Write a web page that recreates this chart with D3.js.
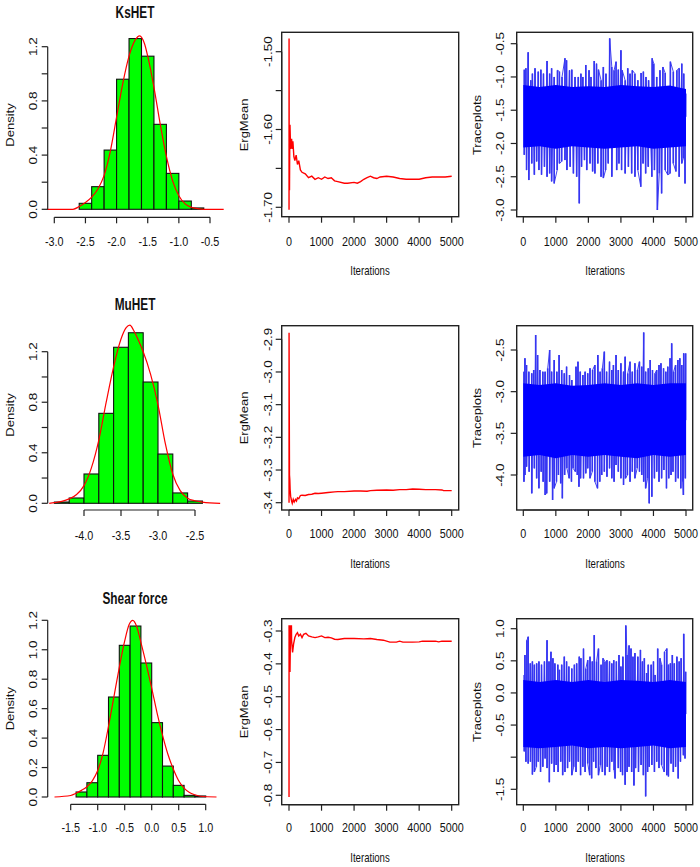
<!DOCTYPE html>
<html><head><meta charset="utf-8">
<script src="https://cdn.jsdelivr.net/npm/d3@7"></script>
<style>html,body{margin:0;padding:0;background:#fff;}svg{display:block;}</style>
</head><body>
<script>
// ---------------- DATA ----------------
const iterTicks = [0,1000,2000,3000,4000,5000];

// KsHET
const ksBreaks = [-2.6,-2.4,-2.2,-2.0,-1.8,-1.6,-1.4,-1.2,-1.0,-0.8,-0.6];
const ksHist = [0.044,0.167,0.437,0.96,1.26,1.13,0.627,0.265,0.061,0.01];
const ksDensX = [-3.12,-2.7,-2.6,-2.5,-2.4,-2.3,-2.2,-2.1,-2.0,-1.9,-1.8,-1.7,-1.63,-1.55,-1.5,-1.4,-1.3,-1.2,-1.1,-1.0,-0.9,-0.8,-0.7,-0.6,-0.28];
const ksDensY = [0,0,0.02,0.05,0.09,0.15,0.25,0.43,0.68,0.93,1.13,1.25,1.28,1.22,1.13,0.9,0.63,0.39,0.21,0.1,0.04,0.015,0.005,0,0];
const ksHistXTicks = [-3.0,-2.5,-2.0,-1.5,-1.0,-0.5];
const ksHistYTicks = [0,0.2,0.4,0.6,0.8,1.0,1.2];
const ksHistYLabels = ["0.0","","0.4","","0.8","","1.2"];
const ksErgIter = [1,2,5,10,15,25,30,40,50,60,80,100,120,150,180,220,260,300,350,400,500,600,700,800,900,1000,1100,1200,1300,1400,1500,1700,1800,2000,2100,2200,2300,2400,2500,2600,2700,2800,3000,3200,3400,3600,3800,4000,4200,4400,4600,4800,5000];
const ksErgVal = [-1.703,-1.483,-1.60,-1.65,-1.678,-1.60,-1.594,-1.61,-1.625,-1.62,-1.612,-1.625,-1.615,-1.635,-1.64,-1.633,-1.645,-1.64,-1.652,-1.655,-1.657,-1.662,-1.66,-1.664,-1.662,-1.664,-1.661,-1.663,-1.662,-1.666,-1.667,-1.669,-1.669,-1.668,-1.669,-1.667,-1.664,-1.662,-1.660,-1.662,-1.663,-1.661,-1.660,-1.661,-1.663,-1.664,-1.664,-1.664,-1.662,-1.661,-1.661,-1.661,-1.660];
const ksErgTicks = [-1.70,-1.65,-1.60,-1.55,-1.50];
const ksErgLabels = ["-1.70","","-1.60","","-1.50"];
const ksTraceTicks = [-3.0,-2.5,-2.0,-1.5,-1.0,-0.5];
const ksTraceLabels = ["-3.0","-2.5","-2.0","-1.5","-1.0","-0.5"];
const coreIters = [0,500,1000,1500,2000,2500,3000,3500,4000,4500,5000];
const ksCoreTop = [-1.12,-1.15,-1.12,-1.15,-1.14,-1.15,-1.12,-1.14,-1.15,-1.13,-1.18];
const ksCoreBot = [-2.06,-2.04,-2.08,-2.04,-2.06,-2.08,-2.06,-2.04,-2.08,-2.06,-2.04];
const ksUpper = [[30,-0.89],[80,-0.87],[150,-0.63],[230,-1.05],[280,-0.95],[360,-0.87],[460,-0.92],[540,-0.89],[620,-0.95],[730,-0.76],[810,-0.95],[870,-0.87],[950,-1.0],[1050,-0.9],[1110,-0.92],[1190,-1.0],[1280,-0.72],[1330,-0.75],[1420,-0.9],[1490,-0.89],[1590,-1.0],[1690,-1.0],[1770,-0.95],[1830,-1.0],[1920,-0.82],[2020,-0.9],[2080,-1.0],[2180,-0.76],[2250,-0.8],[2310,-0.89],[2390,-1.05],[2460,-0.85],[2540,-0.95],[2655,-0.42],[2720,-0.85],[2790,-0.9],[2850,-0.77],[2920,-0.89],[3000,-0.6],[3040,-0.9],[3130,-1.05],[3210,-0.87],[3280,-0.95],[3350,-0.9],[3430,-0.95],[3520,-1.05],[3620,-0.94],[3690,-0.92],[3770,-1.0],[3850,-1.05],[3960,-0.72],[4010,-0.8],[4100,-1.0],[4200,-0.9],[4290,-0.85],[4360,-0.94],[4520,-0.77],[4610,-0.92],[4720,-0.9],[4790,-0.87],[4870,-0.8],[4930,-0.95],[4990,-1.25]];
const ksLower = [[30,-2.17],[100,-2.40],[170,-2.55],[260,-2.30],[340,-2.47],[410,-2.27],[480,-2.40],[560,-2.47],[650,-2.35],[730,-2.50],[810,-2.45],[870,-2.57],[950,-2.60],[1040,-2.40],[1110,-2.30],[1180,-2.27],[1280,-2.25],[1340,-2.40],[1440,-2.35],[1540,-2.45],[1640,-2.50],[1720,-2.90],[1790,-2.35],[1880,-2.25],[1950,-2.40],[2050,-2.30],[2130,-2.42],[2200,-2.45],[2290,-2.30],[2390,-2.50],[2460,-2.52],[2530,-2.40],[2610,-2.30],[2720,-2.50],[2870,-2.40],[2940,-2.30],[3020,-2.40],[3130,-2.45],[3230,-2.35],[3330,-2.45],[3430,-2.50],[3520,-2.40],[3610,-2.65],[3680,-2.30],[3760,-2.45],[3840,-2.35],[3950,-2.50],[4030,-2.40],[4120,-3.00],[4180,-2.45],[4250,-2.75],[4360,-2.40],[4440,-2.47],[4510,-2.45],[4610,-2.30],[4690,-2.42],[4790,-2.50],[4870,-2.30],[4920,-2.22],[4970,-2.60]];

// MuHET
const muBreaks = [-4.4,-4.2,-4.0,-3.8,-3.6,-3.4,-3.2,-3.0,-2.8,-2.6,-2.4];
const muHist = [0.01,0.042,0.232,0.712,1.235,1.35,0.96,0.39,0.082,0.018];
const muDensX = [-4.47,-4.4,-4.3,-4.2,-4.1,-4.0,-3.9,-3.8,-3.7,-3.6,-3.5,-3.43,-3.38,-3.33,-3.25,-3.2,-3.1,-3.0,-2.9,-2.8,-2.7,-2.6,-2.5,-2.4,-2.16];
const muDensY = [0,0.005,0.015,0.035,0.07,0.14,0.28,0.5,0.8,1.08,1.3,1.39,1.41,1.37,1.27,1.2,1.02,0.78,0.47,0.23,0.1,0.04,0.02,0.01,0];
const muHistXTicks = [-4.0,-3.5,-3.0,-2.5];
const muHistYTicks = [0,0.2,0.4,0.6,0.8,1.0,1.2];
const muHistYLabels = ["0.0","","0.4","","0.8","","1.2"];
const muErgIter = [1,2,8,15,25,35,50,80,100,130,160,200,230,260,300,350,400,500,600,700,800,900,1000,1200,1400,1500,1700,2000,2200,2400,2500,2700,3000,3200,3400,3600,3800,4000,4200,4500,4700,4750,5000];
const muErgVal = [-3.40,-2.88,-3.10,-3.315,-3.33,-3.36,-3.38,-3.395,-3.402,-3.39,-3.398,-3.39,-3.395,-3.385,-3.388,-3.378,-3.377,-3.378,-3.375,-3.374,-3.371,-3.372,-3.371,-3.369,-3.367,-3.366,-3.366,-3.364,-3.364,-3.365,-3.363,-3.362,-3.361,-3.362,-3.360,-3.360,-3.358,-3.359,-3.360,-3.360,-3.361,-3.363,-3.363];
const muErgTicks = [-3.4,-3.3,-3.2,-3.1,-3.0,-2.9];
const muErgLabels = ["-3.4","-3.3","-3.2","-3.1","-3.0","-2.9"];
const muTraceTicks = [-4.0,-3.5,-3.0,-2.5];
const muTraceLabels = ["-4.0","-3.5","-3.0","-2.5"];
const muCoreTop = [-2.90,-2.92,-2.90,-2.93,-2.92,-2.90,-2.92,-2.90,-2.92,-2.90,-2.90];
const muCoreBot = [-3.78,-3.76,-3.80,-3.76,-3.78,-3.76,-3.78,-3.80,-3.76,-3.78,-3.76];
const muUpper = [[20,-2.76],[50,-2.60],[100,-2.68],[170,-2.76],[260,-2.78],[320,-2.74],[380,-2.32],[440,-2.56],[510,-2.74],[600,-2.76],[670,-2.76],[750,-2.72],[810,-2.50],[870,-2.76],[950,-2.62],[1030,-2.76],[1100,-2.56],[1180,-2.74],[1260,-2.78],[1330,-2.70],[1420,-2.80],[1490,-2.86],[1620,-2.70],[1680,-2.64],[1750,-2.76],[1830,-2.80],[1900,-2.76],[1980,-2.78],[2050,-2.72],[2130,-2.74],[2200,-2.68],[2290,-2.56],[2360,-2.76],[2430,-2.72],[2490,-2.52],[2560,-2.76],[2650,-2.64],[2720,-2.74],[2770,-2.68],[2850,-2.56],[2920,-2.74],[3000,-2.66],[3080,-2.76],[3130,-2.58],[3210,-2.78],[3280,-2.64],[3350,-2.76],[3430,-2.66],[3510,-2.74],[3570,-2.64],[3640,-2.70],[3700,-2.29],[3760,-2.76],[3840,-2.72],[3900,-2.62],[3970,-2.74],[4050,-2.78],[4100,-2.74],[4170,-2.68],[4230,-2.66],[4310,-2.72],[4380,-2.76],[4440,-2.70],[4510,-2.60],[4560,-2.42],[4620,-2.76],[4680,-2.68],[4750,-2.62],[4810,-2.60],[4870,-2.68],[4930,-2.54],[4990,-2.54]];
const muLower = [[20,-4.08],[50,-4.0],[100,-3.90],[180,-3.96],[260,-4.22],[340,-3.92],[410,-4.04],[480,-4.16],[550,-3.96],[610,-4.08],[670,-4.24],[720,-4.22],[810,-4.08],[900,-4.30],[950,-4.16],[1020,-4.08],[1080,-4.00],[1150,-4.10],[1200,-4.28],[1270,-4.00],[1340,-3.92],[1410,-4.04],[1480,-4.08],[1530,-3.92],[1600,-3.96],[1660,-4.00],[1710,-4.14],[1760,-4.04],[1850,-4.04],[1920,-3.98],[1980,-3.92],[2050,-4.04],[2120,-3.96],[2200,-4.08],[2280,-4.16],[2350,-4.08],[2410,-4.00],[2490,-3.96],[2570,-4.02],[2650,-3.92],[2720,-4.04],[2790,-4.08],[2850,-3.88],[2920,-3.96],[3000,-4.04],[3080,-4.12],[3140,-4.04],[3200,-4.00],[3280,-4.08],[3350,-3.96],[3430,-4.04],[3500,-3.92],[3570,-3.96],[3640,-4.00],[3700,-4.08],[3760,-4.16],[3820,-4.04],[3870,-4.34],[3950,-4.26],[4030,-4.04],[4100,-3.96],[4170,-4.08],[4250,-4.04],[4320,-3.94],[4400,-4.16],[4470,-4.04],[4540,-4.00],[4600,-3.96],[4680,-4.08],[4760,-4.04],[4840,-4.16],[4900,-4.08],[4920,-4.24],[4980,-4.04]];

// Shear force
const shBreaks = [-1.4,-1.2,-1.0,-0.8,-0.6,-0.4,-0.2,0.0,0.2,0.4,0.6,0.8,1.0];
const shHist = [0.034,0.097,0.283,0.679,1.03,1.161,0.91,0.505,0.21,0.079,0.011,0.007];
const shDensX = [-1.8,-1.5,-1.4,-1.3,-1.2,-1.1,-1.0,-0.9,-0.8,-0.7,-0.6,-0.5,-0.42,-0.35,-0.28,-0.2,-0.1,0.0,0.1,0.2,0.3,0.4,0.5,0.6,0.7,0.8,0.9,1.2];
const shDensY = [0,0.01,0.025,0.045,0.07,0.11,0.18,0.3,0.48,0.68,0.88,1.06,1.17,1.2,1.16,1.05,0.9,0.74,0.57,0.42,0.29,0.19,0.11,0.06,0.03,0.015,0.005,0];
const shHistXTicks = [-1.5,-1.0,-0.5,0.0,0.5,1.0];
const shHistYTicks = [0,0.2,0.4,0.6,0.8,1.0,1.2];
const shHistYLabels = ["0.0","0.2","0.4","0.6","0.8","1.0","1.2"];
const shErgIter = [1,2,20,30,45,60,75,80,110,140,180,220,260,300,350,400,450,520,600,700,800,900,1000,1100,1200,1300,1400,1500,1700,2000,2300,2500,2700,2900,3100,3300,3400,3500,3800,4000,4100,4500,4600,4700,5000];
const shErgVal = [-0.805,-0.285,-0.285,-0.425,-0.31,-0.285,-0.285,-0.33,-0.365,-0.34,-0.32,-0.31,-0.305,-0.315,-0.31,-0.32,-0.31,-0.307,-0.315,-0.318,-0.32,-0.318,-0.315,-0.32,-0.319,-0.321,-0.325,-0.326,-0.323,-0.323,-0.324,-0.323,-0.326,-0.328,-0.334,-0.334,-0.331,-0.334,-0.334,-0.333,-0.331,-0.331,-0.333,-0.331,-0.331];
const shErgTicks = [-0.8,-0.7,-0.6,-0.5,-0.4,-0.3];
const shErgLabels = ["-0.8","-0.7","-0.6","-0.5","-0.4","-0.3"];
const shTraceTicks = [-1.5,-1.0,-0.5,0.0,0.5,1.0];
const shTraceLabels = ["-1.5","","-0.5","0.0","0.5","1.0"];
const shCoreTop = [0.20,0.17,0.20,0.17,0.20,0.17,0.20,0.19,0.17,0.20,0.17];
const shCoreBot = [-0.84,-0.86,-0.84,-0.82,-0.86,-0.84,-0.86,-0.84,-0.82,-0.86,-0.84];
const shUpper = [[30,0.28],[50,0.59],[110,0.82],[150,0.875],[215,0.46],[280,0.49],[340,0.44],[410,0.46],[480,0.49],[560,0.44],[650,0.49],[730,0.82],[790,0.49],[850,0.64],[910,0.54],[970,0.46],[1060,0.44],[1110,0.36],[1180,0.44],[1260,0.565],[1330,0.49],[1400,0.41],[1490,0.38],[1570,0.44],[1640,0.46],[1720,0.565],[1770,0.54],[1850,0.69],[1920,0.38],[1980,0.51],[2050,0.565],[2120,0.49],[2180,0.90],[2250,0.49],[2310,0.69],[2390,0.44],[2450,0.54],[2510,0.49],[2570,0.51],[2650,0.49],[2720,0.46],[2780,0.51],[2860,0.49],[2940,0.59],[3000,0.41],[3060,0.565],[3150,1.05],[3190,0.59],[3250,0.74],[3310,0.69],[3370,0.565],[3430,0.62],[3520,0.565],[3600,0.67],[3660,0.49],[3720,0.54],[3790,0.31],[3840,0.44],[3930,0.44],[4000,0.49],[4050,0.28],[4130,0.69],[4200,0.54],[4250,0.44],[4340,0.64],[4410,0.69],[4460,0.44],[4520,0.46],[4580,0.59],[4640,0.46],[4720,0.565],[4790,0.49],[4850,0.54],[4930,0.92],[4990,0.33]];
const shLower = [[30,-0.91],[80,-1.07],[150,-1.10],[220,-1.07],[280,-1.27],[340,-1.23],[400,-1.15],[460,-1.07],[530,-1.23],[600,-1.15],[670,-1.02],[730,-1.17],[800,-1.39],[870,-1.10],[950,-1.23],[1010,-1.12],[1070,-1.23],[1150,-1.07],[1210,-1.28],[1280,-1.23],[1360,-1.17],[1420,-1.07],[1490,-1.28],[1550,-1.15],[1620,-1.23],[1690,-1.07],[1760,-1.28],[1830,-1.15],[1900,-1.23],[1980,-1.10],[2040,-1.28],[2100,-1.33],[2160,-1.07],[2230,-1.17],[2310,-1.28],[2370,-1.12],[2430,-1.23],[2510,-1.28],[2580,-1.15],[2650,-1.23],[2720,-1.07],[2790,-1.20],[2820,-1.33],[2920,-1.17],[2990,-1.23],[3050,-1.28],[3130,-1.43],[3190,-1.23],[3250,-1.15],[3330,-1.23],[3400,-1.44],[3450,-1.17],[3540,-1.23],[3620,-1.12],[3690,-1.28],[3760,-1.61],[3820,-1.23],[3870,-1.15],[3950,-1.12],[4030,-1.23],[4100,-1.07],[4170,-1.17],[4250,-1.12],[4330,-1.23],[4410,-1.28],[4460,-1.30],[4540,-1.10],[4610,-1.23],[4680,-1.15],[4760,-1.33],[4830,-1.07],[4920,-0.97],[4970,-1.02]];

// ---------------- DRAWING ----------------
const FONT = "'Liberation Sans', Arial, sans-serif";
const svg = d3.select("body").append("svg").attr("width",700).attr("height",867);
svg.append("rect").attr("width",700).attr("height",867).attr("fill","#fff");
const AX = "#222";

function txt(x,y,s,o){
  svg.append("text")
    .attr("transform",`translate(${x},${y}) rotate(${o.rot||0}) scale(${o.sx||1},${o.sy||1})`)
    .attr("text-anchor",o.anchor||"middle")
    .attr("font-family",FONT).attr("font-size",o.size||13.5)
    .attr("font-weight",o.weight||"normal").attr("fill","#111").text(s);
}
function fmt(t){ return Number.isInteger(t) && Math.abs(t)>=10 || t===0 && this_int ? String(t) : t.toFixed(1); }
let this_int=false;
function xAxis(scale, ticks, y, labY, integer){
  svg.append("line").attr("x1",scale(ticks[0])).attr("x2",scale(ticks[ticks.length-1]))
    .attr("y1",y).attr("y2",y).attr("stroke",AX).attr("stroke-width",1.2);
  ticks.forEach(t=>{
    svg.append("line").attr("x1",scale(t)).attr("x2",scale(t)).attr("y1",y).attr("y2",y+6).attr("stroke",AX).attr("stroke-width",1.2);
    txt(scale(t), labY, integer ? String(t) : t.toFixed(1), {sx:0.8, size:13.5});
  });
}
function yAxis(scale, ticks, labels, x, labX){
  svg.append("line").attr("x1",x).attr("x2",x).attr("y1",scale(ticks[0])).attr("y2",scale(ticks[ticks.length-1]))
    .attr("stroke",AX).attr("stroke-width",1.2);
  ticks.forEach((t,i)=>{
    svg.append("line").attr("x1",x-6).attr("x2",x).attr("y1",scale(t)).attr("y2",scale(t)).attr("stroke",AX).attr("stroke-width",1.2);
    if(labels[i]) txt(labX, scale(t), labels[i], {rot:-90, sy:0.8, size:13.5});
  });
}

const histPanels = [
  {title:"KsHET", titleY:17.5, axX:47.7, y0:209.3, y12:46.7, axY:217.3, xd:[-3,-0.5], xr:[54.3,210], labY:246, midY:125,
   breaks:ksBreaks, hist:ksHist, dx:ksDensX, dy:ksDensY, xt:ksHistXTicks, yt:ksHistYTicks, yl:ksHistYLabels},
  {title:"MuHET", titleY:310, axX:47.7, y0:503.3, y12:351.7, axY:510, xd:[-4,-2.5], xr:[84,195], labY:540, midY:415,
   breaks:muBreaks, hist:muHist, dx:muDensX, dy:muDensY, xt:muHistXTicks, yt:muHistYTicks, yl:muHistYLabels},
  {title:"Shear force", titleY:603.7, axX:47.7, y0:797, y12:620.3, axY:804.3, xd:[-1.5,1.0], xr:[70.7,205.7], labY:832, midY:708.7,
   breaks:shBreaks, hist:shHist, dx:shDensX, dy:shDensY, xt:shHistXTicks, yt:shHistYTicks, yl:shHistYLabels}
];

histPanels.forEach(p=>{
  const x = d3.scaleLinear().domain(p.xd).range(p.xr);
  const y = d3.scaleLinear().domain([0,1.2]).range([p.y0,p.y12]);
  p.hist.forEach((h,i)=>{
    svg.append("rect").attr("x",x(p.breaks[i])).attr("y",y(h))
      .attr("width",x(p.breaks[i+1])-x(p.breaks[i])).attr("height",y(0)-y(h))
      .attr("fill","#00ff00").attr("stroke","#111").attr("stroke-width",1.1);
  });
  const line = d3.line().x(d=>x(d[0])).y(d=>y(d[1])).curve(d3.curveMonotoneX);
  svg.append("path").attr("d",line(p.dx.map((v,i)=>[v,p.dy[i]])))
    .attr("fill","none").attr("stroke","#ff0000").attr("stroke-width",1.2);
  xAxis(x, p.xt, p.axY, p.labY, false);
  yAxis(y, p.yt, p.yl, p.axX, 36.5);
  txt(135, p.titleY, p.title, {size:16, sx:0.74, weight:"bold"});
  txt(13.7, p.midY, "Density", {rot:-90, sy:0.8, size:13});
});

const ergPanels = [
  {box:[281.7,32.3,458.7,216.7], yd:[-1.70,-1.50], yr:[207.3,51.7], labY:246, itY:275, midY:125,
   it:ksErgIter, v:ksErgVal, yt:ksErgTicks, yl:ksErgLabels},
  {box:[281.7,325.7,458.7,510], yd:[-3.4,-2.9], yr:[502.7,339.3], labY:538, itY:568, midY:418,
   it:muErgIter, v:muErgVal, yt:muErgTicks, yl:muErgLabels},
  {box:[281.7,618.7,458.7,804.7], yd:[-0.8,-0.3], yr:[795.3,631], labY:832, itY:862, midY:712,
   it:shErgIter, v:shErgVal, yt:shErgTicks, yl:shErgLabels}
];
ergPanels.forEach(p=>{
  const x = d3.scaleLinear().domain([0,5000]).range([289,451.7]);
  const y = d3.scaleLinear().domain(p.yd).range(p.yr);
  const line = d3.line().x(d=>x(d[0])).y(d=>y(d[1]));
  svg.append("path").attr("d",line(p.it.map((t,i)=>[t,p.v[i]])))
    .attr("fill","none").attr("stroke","#ff0000").attr("stroke-width",1.4);
  const b=p.box;
  svg.append("rect").attr("x",b[0]).attr("y",b[1]).attr("width",b[2]-b[0]).attr("height",b[3]-b[1])
    .attr("fill","none").attr("stroke","#222").attr("stroke-width",1.4);
  xAxis(x, iterTicks, b[3], p.labY, true);
  yAxis(y, p.yt, p.yl, b[0], 272.3);
  txt(370, p.itY, "Iterations", {size:13, sx:0.74});
  txt(247.5, p.midY, "ErgMean", {rot:-90, sy:0.8, size:13});
});

const tracePanels = [
  {box:[516.7,32.3,692.7,216.7], yd:[-3.0,-0.5], yr:[210,43.7], labY:246, itY:275, midY:125,
   top:ksCoreTop, bot:ksCoreBot, up:ksUpper, lo:ksLower, yt:ksTraceTicks, yl:ksTraceLabels},
  {box:[516.7,325.7,692.7,510], yd:[-4.0,-2.5], yr:[475,350], labY:538, itY:568, midY:418,
   top:muCoreTop, bot:muCoreBot, up:muUpper, lo:muLower, yt:muTraceTicks, yl:muTraceLabels},
  {box:[516.7,618.7,692.7,804.7], yd:[-1.5,1.0], yr:[789.3,628.7], labY:832, itY:862, midY:712,
   top:shCoreTop, bot:shCoreBot, up:shUpper, lo:shLower, yt:shTraceTicks, yl:shTraceLabels}
];
tracePanels.forEach(p=>{
  const x = d3.scaleLinear().domain([0,5000]).range([523.3,686]);
  const y = d3.scaleLinear().domain(p.yd).range(p.yr);
  const mid = (d3.mean(p.top)+d3.mean(p.bot))/2;
  // trace line: alternates through the read-off peaks (upper / lower) in iteration order
  const pts = p.up.map(d=>({t:d[0],v:d[1]})).concat(p.lo.map(d=>({t:d[0],v:d[1]}))).sort((a,b)=>a.t-b.t);
  svg.append("path").attr("d", d3.line().x(d=>x(d.t)).y(d=>y(d.v))(pts))
    .attr("fill","none").attr("stroke","#4646f0").attr("stroke-width",1);
  [p.up, p.lo].forEach(arr=>arr.forEach(d=>{
    svg.append("line").attr("x1",x(d[0])).attr("x2",x(d[0])).attr("y1",y(mid)).attr("y2",y(d[1]))
      .attr("stroke","#3535f2").attr("stroke-width",1.6);
  }));
  const area = d3.area().x((d,i)=>x(coreIters[i])).y0((d,i)=>y(p.bot[i])).y1((d,i)=>y(p.top[i]));
  svg.append("path").attr("d",area(coreIters)).attr("fill","#0000ff");
  const b=p.box;
  svg.append("rect").attr("x",b[0]).attr("y",b[1]).attr("width",b[2]-b[0]).attr("height",b[3]-b[1])
    .attr("fill","none").attr("stroke","#222").attr("stroke-width",1.4);
  xAxis(x, iterTicks, b[3], p.labY, true);
  yAxis(y, p.yt, p.yl, b[0], 504);
  txt(605, p.itY, "Iterations", {size:13, sx:0.74});
  txt(481, p.midY, "Traceplots", {rot:-90, sy:0.8, size:13});
});
</script>
</body></html>
